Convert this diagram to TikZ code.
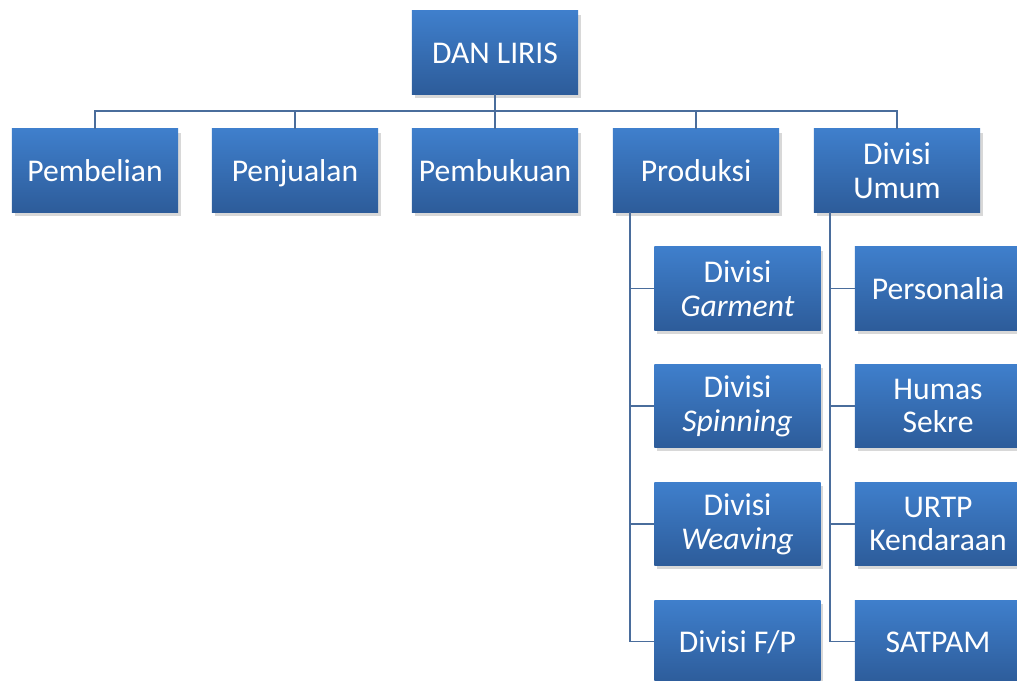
\documentclass[tikz,border=0pt]{standalone}
\usepackage{fontspec}
\setmainfont{Carlito}
\usepackage{tikz}
\usetikzlibrary{shadows,calc}
\definecolor{boxtop}{HTML}{3F7FCC}
\definecolor{boxbot}{HTML}{2D5C9A}
\definecolor{trait}{HTML}{4A6D9C}
\tikzset{unit/.style={
    rectangle,
    minimum width=4.15cm,
    minimum height=2.075cm,
    inner sep=0pt,
    outer sep=0pt,
    align=center,
    text=white,
    font=\fontsize{22.5}{24}\selectfont,
    top color=boxtop,
    bottom color=boxbot,
    drop shadow={opacity=0.3,shadow xshift=0.07cm,shadow yshift=-0.09cm}},
  uneligne/.style={
    text height=15pt,
    text depth=0pt},
  lien/.style={
    draw=trait,
    line width=1.3pt}}

\begin{document}
\begin{tikzpicture}[x=0.025cm, y=-0.025cm]

\useasboundingbox (0,0) rectangle (1017,680);
\fill[white] (0,0) rectangle (1017,680);
\clip (0,0) rectangle (1017,680);

\coordinate (bus) at (495,111);

% sommet
\node[unit,uneligne] (dan) at (495,52.5) {DAN LIRIS};

% premier niveau
\node[unit,uneligne] (beli) at (95,170.5) {Pembelian};
\node[unit,uneligne] (jual) at (295,170.5) {Penjualan};
\node[unit,uneligne] (buku) at (495,170.5) {Pembukuan};
\node[unit,uneligne] (prod) at (696,170.5) {Produksi};
\node[unit] (umum) at (897,170.5) {Divisi\\Umum};

% produksi
\node[unit] (garment) at (737.5,288.5) {Divisi\\\textit{Garment}};
\node[unit] (spin) at (737.5,406) {Divisi\\\textit{Spinning}};
\node[unit] (weave) at (737.5,524) {Divisi\\\textit{Weaving}};
\node[unit,uneligne] (fp) at (737.5,641.5) {Divisi F/P};

% umum
\node[unit,uneligne] (person) at (938,288.5) {Personalia};
\node[unit] (humas) at (938,406) {Humas\\Sekre};
\node[unit] (urtp) at (938,524) {URTP\\Kendaraan};
\node[unit,uneligne] (satpam) at (938,641.5) {SATPAM};

% liens
\draw[lien] (dan.south) -- (bus);
\draw[lien] (beli.north) -- (beli.north |- bus) -- (umum.north |- bus) -- (umum.north);
\draw[lien] (jual.north) -- (jual.north |- bus);
\draw[lien] (buku.north) -- (buku.north |- bus);
\draw[lien] (prod.north) -- (prod.north |- bus);

\coordinate (prodbar) at ($(prod.south west)+(17,0)$);
\coordinate (umumbar) at ($(umum.south west)+(16,0)$);

\draw[lien] (prodbar) |- (fp.west);
\draw[lien] (prodbar |- garment.west) -- (garment.west);
\draw[lien] (prodbar |- spin.west) -- (spin.west);
\draw[lien] (prodbar |- weave.west) -- (weave.west);

\draw[lien] (umumbar) |- (satpam.west);
\draw[lien] (umumbar |- person.west) -- (person.west);
\draw[lien] (umumbar |- humas.west) -- (humas.west);
\draw[lien] (umumbar |- urtp.west) -- (urtp.west);

\end{tikzpicture}
\end{document}
